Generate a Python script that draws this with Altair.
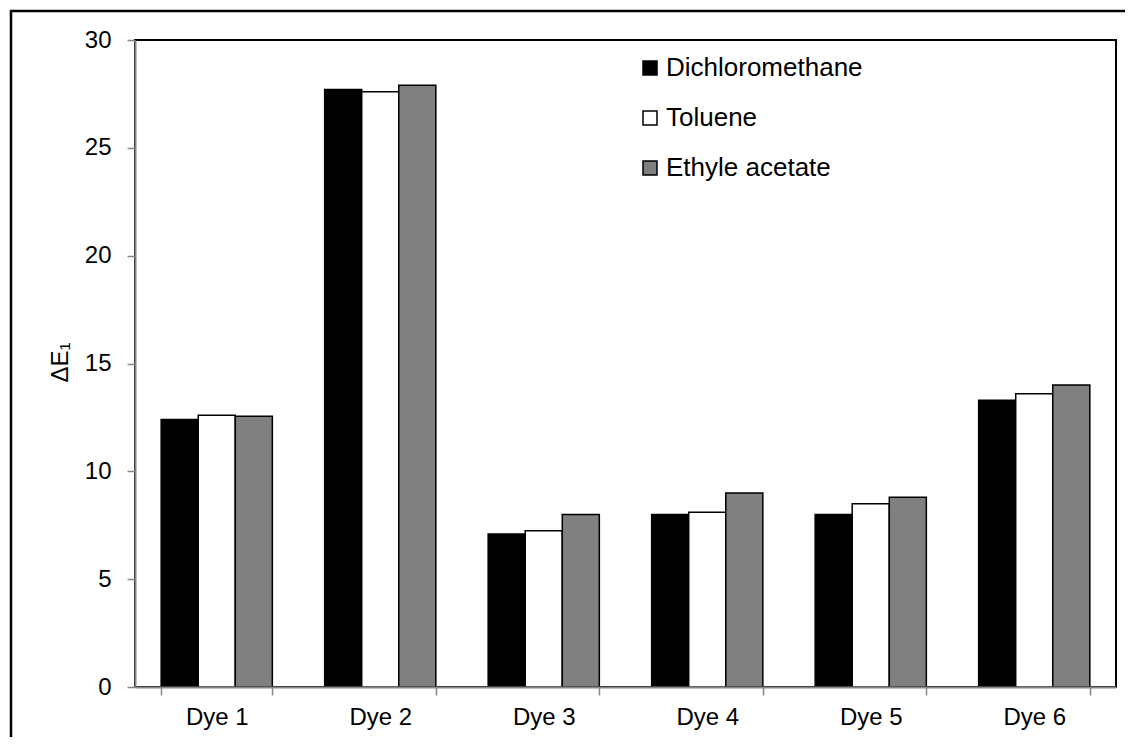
import altair as alt
import pandas as pd

dyes = ["Dye 1", "Dye 2", "Dye 3", "Dye 4", "Dye 5", "Dye 6"]
solvents = ["Dichloromethane", "Toluene", "Ethyle acetate"]
dichloromethane = [12.4, 27.7, 7.1, 8.0, 8.0, 13.3]
toluene = [12.6, 27.6, 7.25, 8.1, 8.5, 13.6]
ethyle_acetate = [12.55, 27.9, 8.0, 9.0, 8.8, 14.0]
colors = ["#000000", "#ffffff", "#808080"]
y_ticks = [0, 5, 10, 15, 20, 25, 30]

rows = []
for s, vals in zip(solvents, [dichloromethane, toluene, ethyle_acetate]):
    for d, v in zip(dyes, vals):
        rows.append({"dye": d, "solvent": s, "value": v})
df = pd.DataFrame(rows)

FONT = "Liberation Sans"

bars = alt.Chart(df).mark_bar(stroke="#000000", strokeWidth=1.5).encode(
    x=alt.X("dye:N", sort=dyes, title=None,
            scale=alt.Scale(paddingInner=0.32, paddingOuter=0.16),
            axis=alt.Axis(labelAngle=0, tickBand="extent", labelFont=FONT,
                          labelFontSize=24, labelColor="#000000",
                          domainColor="#868686", domainWidth=2,
                          tickColor="#868686", tickWidth=1.5, tickSize=8,
                          labelPadding=10, zindex=1)),
    xOffset=alt.XOffset("solvent:N", sort=solvents),
    y=alt.Y("value:Q", title="ΔE₁",
            scale=alt.Scale(domain=[0, 30], nice=False),
            axis=alt.Axis(values=y_ticks, grid=False, labelFont=FONT,
                          labelFontSize=24, labelColor="#000000",
                          domainColor="#868686", domainWidth=2,
                          tickColor="#868686", tickWidth=1.5, tickSize=8,
                          labelPadding=16, titleFont=FONT, titleFontSize=24,
                          titleFontWeight="normal", titleColor="#000000",
                          titleX=-68, titleY=322, titleAngle=270,
                          titleAlign="center", titleBaseline="alphabetic",
                          zindex=1)),
    color=alt.Color("solvent:N", sort=solvents,
                    scale=alt.Scale(domain=solvents, range=colors),
                    legend=alt.Legend(title=None, orient="none", legendX=502,
                                      legendY=15, symbolType="square",
                                      symbolSize=196, symbolStrokeColor="#000000",
                                      symbolStrokeWidth=1.5, labelFont=FONT,
                                      labelFontSize=26, labelColor="#000000",
                                      labelLimit=500,
                                      rowPadding=24, labelOffset=3)),
)

frame = alt.Chart(alt.Data(values=[{}])).mark_rect(
    fill=None, stroke="#000000", strokeWidth=2.5, clip=False
).encode(
    x=alt.value(-124), x2=alt.value(1200),
    y=alt.value(-29), y2=alt.value(800),
)

chart = alt.layer(bars, frame).properties(
    width=981, height=647,
    autosize=alt.AutoSizeParams(type="none"),
    padding={"left": 127, "top": 32, "right": 9, "bottom": 50},
).configure(background="#ffffff").configure_view(stroke="#000000", strokeWidth=2)

chart.save("out.html", embed_options={"renderer": "svg", "actions": False})
